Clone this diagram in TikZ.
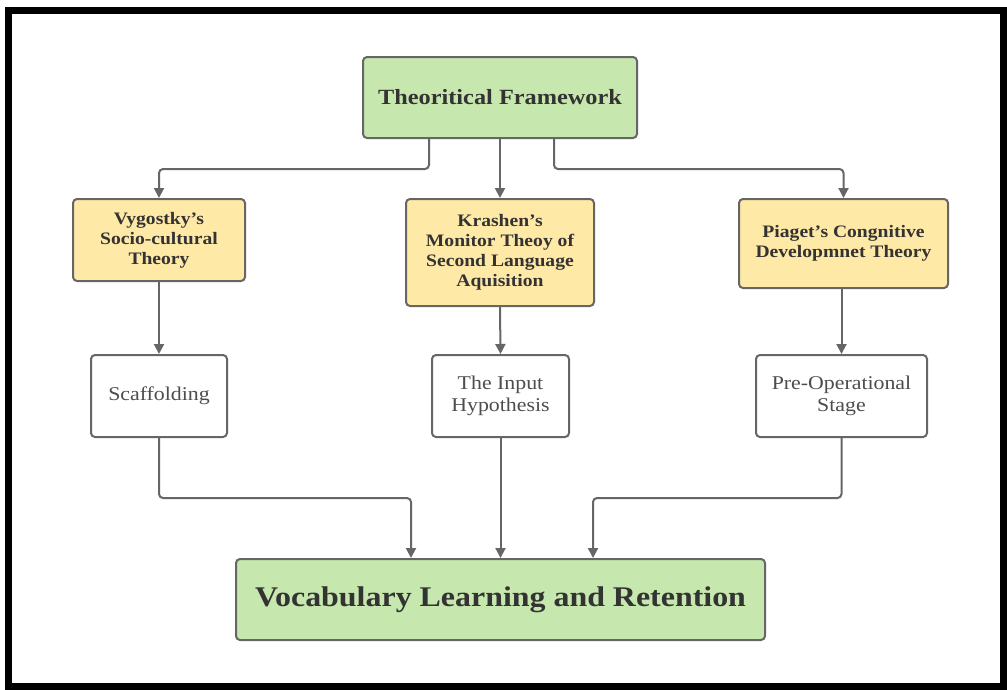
\documentclass[tikz,border=0pt]{standalone}
\usepackage{fontspec}
\setmainfont[FakeStretch=1.12]{Liberation Serif}
\usetikzlibrary{arrows.meta,calc}
\definecolor{boxgreen}{HTML}{C6E7AD}
\definecolor{boxyellow}{HTML}{FFE9A6}
\definecolor{edge}{HTML}{666666}
\definecolor{txtdark}{HTML}{333333}
\definecolor{txtgray}{HTML}{4D4D4D}
\newcommand{\sq}{{\char"0027}}
\tikzset{
  basebox/.style={draw=edge, line width=2pt, rounded corners=4pt, inner sep=0pt, align=center},
  greenbox/.style={basebox, fill=boxgreen, text=txtdark, font=\bfseries},
  yellowbox/.style={basebox, fill=boxyellow, text=txtdark, font=\fontsize{17.5}{20}\selectfont\bfseries},
  whitebox/.style={basebox, fill=white, text=txtgray, font=\fontsize{19.5}{22}\selectfont},
  conn/.style={draw=edge, line width=2pt, rounded corners=4pt, -{Triangle[length=10pt,width=10pt]}},
}
\begin{document}
\begin{tikzpicture}[x=1pt,y=-1pt]
\useasboundingbox (0,0) rectangle (1007,689);
\fill[white] (0,0) rectangle (1007,689);
\draw[black, line width=7pt] (8,10) rectangle (1003.5,686);

\node[greenbox, minimum width=274pt, minimum height=81pt, font=\fontsize{21.7}{24}\selectfont\bfseries] (tf) at (500,97.5) {Theoritical Framework};

\node[yellowbox, minimum width=172pt, minimum height=82pt] (vy) at (159,240) {Vygostky\sq s\\Socio-cultural\\Theory};
\node[yellowbox, minimum width=188pt, minimum height=107pt] (kr) at (500,252.5) {Krashen\sq s\\Monitor Theoy of\\Second Language\\Aquisition};
\node[yellowbox, minimum width=209pt, minimum height=89pt] (pi) at (843.5,243.5) {Piaget\sq s Congnitive\\Developmnet Theory};

\node[whitebox, minimum width=136pt, minimum height=82pt] (sc) at (159,396) {Scaffolding};
\node[whitebox, minimum width=137pt, minimum height=82pt] (ih) at (500.5,396) {The Input\\Hypothesis};
\node[whitebox, minimum width=171pt, minimum height=82pt] (po) at (841.5,396) {Pre-Operational\\Stage};

\node[greenbox, minimum width=529pt, minimum height=81pt, font=\fontsize{28.5}{32}\selectfont\bfseries] (vo) at (500.5,599.5) {Vocabulary Learning and Retention};

\coordinate (tfl) at ($(tf.south)+(-71,0)$);
\coordinate (tfr) at ($(tf.south)+(54,0)$);
\draw[conn] (tfl) -- ++(0,30) -| (vy.north);
\draw[conn] (tf.south) -- (kr.north);
\draw[conn] (tfr) -- ++(0,30) -| (pi.north);

\draw[conn] (vy.south) -- (sc.north);
\draw[conn] (kr.south) -- (ih.north);
\draw[conn] (pi.south -| po.north) -- (po.north);

\coordinate (vol) at ($(vo.north)+(-89.5,0)$);
\coordinate (vor) at ($(vo.north)+(92.5,0)$);
\draw[conn] (sc.south) -- ++(0,60) -| (vol);
\draw[conn] (ih.south) -- (ih.south |- vo.north);
\draw[conn] (po.south) -- ++(0,60) -| (vor);
\end{tikzpicture}
\end{document}
